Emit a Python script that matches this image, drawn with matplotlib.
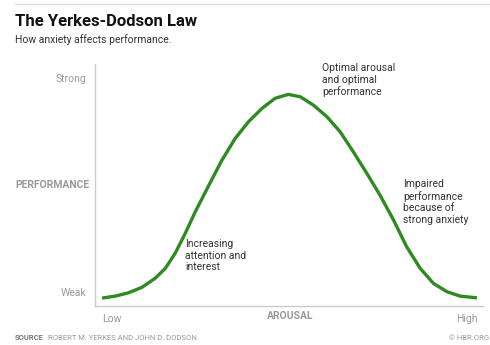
import matplotlib
matplotlib.use("Agg")
import matplotlib.pyplot as plt
from matplotlib.lines import Line2D

plt.rcParams['font.family'] = ['Roboto', 'DejaVu Sans']

# Data (arousal 0=Low..100=High, performance 0=Weak..100=Strong)
arousal = [0, 3.5, 7.0, 10.6, 14.1, 16.8, 19.4, 22.1, 24.7, 28.3, 31.8, 35.4, 38.9, 42.5,
           46.0, 49.5, 52.7, 56.2, 59.8, 63.3, 66.8, 70.4, 73.9, 77.5, 81.0, 84.6, 88.1,
           91.7, 95.2, 99.7]
performance = [0, 0.9, 2.4, 4.9, 9.0, 13.5, 20.3, 29.4, 39.0, 51.0, 62.5, 72.6, 80.1, 86.2,
               90.8, 92.6, 91.5, 87.7, 82.4, 75.6, 66.5, 56.7, 46.8, 35.5, 23.3, 13.5, 6.7,
               2.9, 0.9, 0.1]
y_ticks = [2.7, 100]
y_labels = ["Weak", "Strong"]
x_ticks = [0, 100]
x_labels = ["Low", "High"]

W, H = 490, 345
fig = plt.figure(figsize=(W / 100, H / 100), dpi=100)

def px(x, y):
    return x / W, 1 - y / H

ax = fig.add_axes([95 / W, 1 - 306 / H, (483 - 95) / W, (306 - 64) / H])
ax.plot(arousal, performance, color="#2f8a22", lw=2.4, solid_capstyle="butt",
        solid_joinstyle="round")
ax.set_xlim(-1.9, 101.3)
ax.set_ylim(-3.6, 106.4)
for s in ["top", "right"]:
    ax.spines[s].set_visible(False)
for s in ["left", "bottom"]:
    ax.spines[s].set_color("#cccccc")
    ax.spines[s].set_linewidth(1)

ax.set_yticks(y_ticks)
ax.set_yticklabels(y_labels)
ax.set_xticks(x_ticks)
ax.set_xticklabels(x_labels)
ax.tick_params(length=0, labelsize=7.5, labelcolor="#999999")
ax.tick_params(axis="y", pad=6)
ax.tick_params(axis="x", pad=6)
xl = ax.get_xticklabels()
xl[0].set_ha("left")
xl[1].set_ha("right")

# Top rule
fig.add_artist(Line2D([15 / W, 1], [1 - 4 / H, 1 - 4 / H], color="#dddddd", lw=1))

fig.text(*px(15, 22), "The Yerkes-Dodson Law", fontsize=12, fontweight="bold",
         color="#111111", va="center", ha="left")
fig.text(*px(15, 40), "How anxiety affects performance.", fontsize=7.5,
         color="#333333", va="center", ha="left")

fig.text(*px(89, 185), "PERFORMANCE", fontsize=7.5, fontweight="bold",
         color="#999999", va="center", ha="right")
fig.text(*px(290, 316), "AROUSAL", fontsize=7.5, fontweight="bold",
         color="#999999", va="center", ha="center")

ann = dict(fontsize=7.5, color="#333333", va="top", ha="left", linespacing=1.2)
fig.text(*px(322, 63), "Optimal arousal\nand optimal\nperformance", **ann)
fig.text(*px(403, 179), "Impaired\nperformance\nbecause of\nstrong anxiety", **ann)
fig.text(*px(185, 239), "Increasing\nattention and\ninterest", **ann)

fig.text(*px(15, 338), "SOURCE", fontsize=5.5, fontweight="bold",
         color="#777777", va="center", ha="left")
fig.text(*px(48, 338), "ROBERT M. YERKES AND JOHN D. DODSON", fontsize=5.5,
         color="#999999", va="center", ha="left")
fig.text(*px(489, 338), "\u00a9 HBR.ORG", fontsize=5.5,
         color="#999999", va="center", ha="right")

fig.savefig("out.png", dpi=100)
